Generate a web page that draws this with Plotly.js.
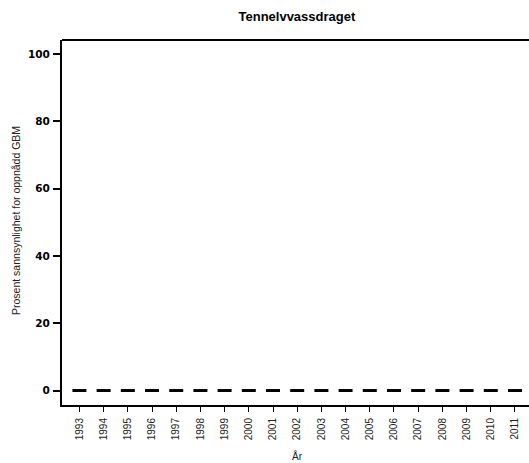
<!DOCTYPE html>
<html><head><meta charset="utf-8">
<script src="https://cdn.plot.ly/plotly-3.0.1.min.js"></script>
<style>html,body{margin:0;padding:0;background:#fff}#c{width:529px;height:463px}</style>
</head><body><div id="c"></div>
<script>
const years = [1993,1994,1995,1996,1997,1998,1999,2000,2001,2002,2003,2004,2005,2006,2007,2008,2009,2010,2011];
const probability = [0,0,0,0,0,0,0,0,0,0,0,0,0,0,0,0,0,0,0];
const yTicks = [0,20,40,60,80,100];
const FONT = 'Liberation Sans, Arial, sans-serif';
const trace = {
  x: years, y: probability, type: 'scatter', mode: 'markers',
  marker: {symbol: 'line-ew', size: 10, color: '#000', line: {color: '#000', width: 3}},
  hoverinfo: 'skip', cliponaxis: false
};
const layout = {
  width: 529, height: 463,
  margin: {l: 62, r: 0, t: 40, b: 58},
  paper_bgcolor: '#fff', plot_bgcolor: '#fff',
  showlegend: false,
  font: {family: FONT, color: '#000'},
  title: {text: 'Tennelvvassdraget', font: {family: FONT, size: 13, weight: 'bold', color: '#000'},
          x: 0.503, xref: 'paper', xanchor: 'center', y: 0.964, yref: 'container', yanchor: 'middle'},
  xaxis: {
    range: [1992.28, 2011.58], tickvals: years, ticktext: years.map(String),
    tickangle: -90, ticks: 'outside', ticklen: 5, tickwidth: 1, tickcolor: '#000',
    ticklabelstandoff: 2,
    tickfont: {family: FONT, size: 10, color: '#222'},
    showgrid: false, zeroline: false, showline: true, linecolor: '#000', linewidth: 2
  },
  yaxis: {
    range: [-4.3, 104.2], tickvals: yTicks, ticktext: yTicks.map(String),
    ticks: 'outside', ticklen: 7, tickwidth: 2, tickcolor: '#000',
    ticklabelstandoff: 1,
    tickfont: {family: 'DejaVu Sans, sans-serif', size: 10.5, weight: 'bold', color: '#000'},
    showgrid: false, zeroline: false, showline: true, linecolor: '#000', linewidth: 2
  },
  annotations: [
    {text: 'Prosent sannsynlighet for oppnådd GBM', xref: 'paper', yref: 'paper', x: 0, y: 0.5055,
     xanchor: 'center', yanchor: 'middle', xshift: -45.5, textangle: -90, showarrow: false,
     font: {family: FONT, size: 10.5, color: '#222'}},
    {text: 'År', xref: 'paper', yref: 'paper', x: 0.504, y: 0, xanchor: 'center', yanchor: 'middle',
     yshift: -50.5, showarrow: false, font: {family: FONT, size: 10, color: '#222'}}
  ],
  shapes: [{type: 'line', xref: 'paper', yref: 'paper', x0: 0, x1: 1, y0: 1, y1: 1, line: {color: '#000', width: 2}}]
};
Plotly.newPlot('c', [trace], layout, {displayModeBar: false, staticPlot: true});
</script></body></html>
